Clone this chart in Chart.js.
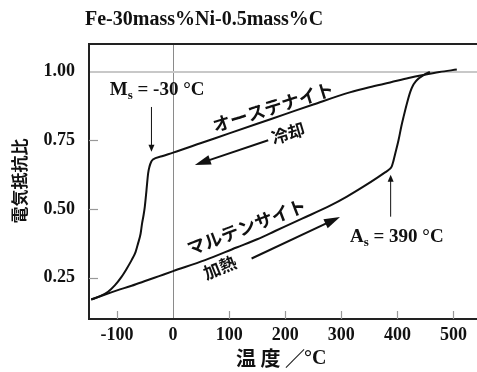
<!DOCTYPE html>
<html><head><meta charset="utf-8">
<script src="https://cdn.jsdelivr.net/npm/chart.js@4/dist/chart.umd.min.js"></script>
<style>html,body{margin:0;padding:0;background:#fff}#wrap{width:477px;height:372px}</style>
</head><body><div id="wrap"><canvas id="c" width="477" height="372"></canvas></div>
<script>
const chartTitle = 'Fe-30mass%Ni-0.5mass%C';
const xTicks = [-100, 0, 100, 200, 300, 400, 500];
const yTicks = [0.25, 0.50, 0.75, 1.00];
// cooling (austenite line + martensite drop), sorted by temperature
const coolTemps  = [-146, -130, -116, -104, -92, -83, -74, -67, -62.5, -58, -55.4, -52.5, -50.5, -47.5, -44.6, -42, -39, -36, -20, 0, 50, 100, 150, 200, 250, 315, 350, 387, 420, 446, 475, 506];
const coolValues = [0.171, 0.183, 0.199, 0.222, 0.253, 0.282, 0.314, 0.343, 0.375, 0.41, 0.447, 0.48, 0.508, 0.568, 0.629, 0.655, 0.672, 0.68, 0.692, 0.705, 0.74, 0.775, 0.81, 0.845, 0.88, 0.924, 0.943, 0.96, 0.976, 0.987, 0.998, 1.007];
// heating (martensite line + reverse transformation)
const heatTemps  = [-146, -120, -100, -74, -50, -25, 0, 57, 113, 150, 182, 230, 280, 310, 340, 365, 378, 386, 390, 393, 396, 402, 407, 411, 417, 423, 428, 432, 438, 444, 451, 458];
const heatValues = [0.171, 0.19, 0.204, 0.221, 0.238, 0.256, 0.274, 0.314, 0.36, 0.39, 0.42, 0.465, 0.512, 0.545, 0.582, 0.615, 0.633, 0.645, 0.655, 0.675, 0.70, 0.75, 0.80, 0.835, 0.884, 0.926, 0.95, 0.962, 0.975, 0.983, 0.992, 0.999];

const SERIF = '"Liberation Serif", "Times New Roman", serif';
const SANS = '"Noto Sans CJK JP", "Noto Sans", sans-serif';

function pts(xs, ys) { return xs.map((x, i) => ({ x: x, y: ys[i] })); }

function arrow(ctx, x0, y0, x1, y1, lw, hl, hw) {
  const a = Math.atan2(y1 - y0, x1 - x0);
  ctx.save();
  ctx.strokeStyle = '#111'; ctx.fillStyle = '#111'; ctx.lineWidth = lw;
  ctx.beginPath();
  ctx.moveTo(x0, y0);
  ctx.lineTo(x1 - Math.cos(a) * hl * 0.8, y1 - Math.sin(a) * hl * 0.8);
  ctx.stroke();
  ctx.beginPath();
  ctx.moveTo(x1, y1);
  ctx.lineTo(x1 - Math.cos(a) * hl - Math.sin(a) * hw, y1 - Math.sin(a) * hl + Math.cos(a) * hw);
  ctx.lineTo(x1 - Math.cos(a) * hl + Math.sin(a) * hw, y1 - Math.sin(a) * hl - Math.cos(a) * hw);
  ctx.closePath(); ctx.fill();
  ctx.restore();
}

function rotText(ctx, txt, x, y, deg, font) {
  ctx.save();
  ctx.translate(x, y); ctx.rotate(deg * Math.PI / 180);
  ctx.font = font; ctx.fillStyle = '#111';
  ctx.textAlign = 'center'; ctx.textBaseline = 'middle';
  ctx.fillText(txt, 0, 0);
  ctx.restore();
}

function subLabel(ctx, main, sub, rest, x, y) {
  ctx.save();
  ctx.fillStyle = '#111'; ctx.textBaseline = 'alphabetic'; ctx.textAlign = 'left';
  ctx.font = 'bold 19px ' + SERIF;
  ctx.fillText(main, x, y);
  let w = ctx.measureText(main).width;
  ctx.font = 'bold 13px ' + SERIF;
  ctx.fillText(sub, x + w, y + 4);
  w += ctx.measureText(sub).width;
  ctx.font = 'bold 19px ' + SERIF;
  ctx.fillText(rest, x + w, y);
  ctx.restore();
}

const deco = {
  id: 'deco',
  beforeDatasetsDraw(chart) {
    const { ctx, chartArea: ca, scales: { x, y } } = chart;
    ctx.save();
    ctx.strokeStyle = '#999'; ctx.lineWidth = 1.2;
    xTicks.forEach(t => {
      if (t === 0) return;
      const px = Math.round(x.getPixelForValue(t)) + 0.5;
      ctx.beginPath(); ctx.moveTo(px, ca.bottom); ctx.lineTo(px, ca.bottom - 8); ctx.stroke();
    });
    yTicks.forEach(t => {
      if (t === 1) return;
      const py = Math.round(y.getPixelForValue(t)) + 0.5;
      ctx.beginPath(); ctx.moveTo(ca.left, py); ctx.lineTo(ca.left + 9, py); ctx.stroke();
    });
    ctx.strokeStyle = '#222'; ctx.lineWidth = 2;
    ctx.beginPath(); ctx.moveTo(ca.left - 1, ca.top); ctx.lineTo(ca.right, ca.top); ctx.stroke();
    ctx.restore();
  },
  afterDraw(chart) {
    const { ctx, scales: { x, y } } = chart;
    const X = v => x.getPixelForValue(v), Y = v => y.getPixelForValue(v);
    ctx.save();
    ctx.font = 'bold 20px ' + SERIF; ctx.fillStyle = '#111';
    ctx.textAlign = 'left'; ctx.textBaseline = 'alphabetic';
    ctx.fillText(chartTitle, 85, 25);
    rotText(ctx, '電気抵抗比', 20, 181, -90, 'bold 17px ' + SANS);
    ctx.font = 'bold 20px ' + SANS; ctx.textAlign = 'left'; ctx.textBaseline = 'middle';
    ctx.fillStyle = '#111';
    ctx.fillText('温 度 ／', 236, 358);
    const w0 = ctx.measureText('温 度 ／').width;
    ctx.font = 'bold 20px ' + SERIF;
    ctx.fillText('°C', 236 + w0 - 1, 359);
    subLabel(ctx, 'M', 's', ' = -30 °C', X(-113), Y(0.914));
    subLabel(ctx, 'A', 's', ' = 390 °C', X(315.5), Y(0.381));
    arrow(ctx, X(-38.6), Y(0.871), X(-38.6), Y(0.708), 1, 7, 3);
    arrow(ctx, X(388), Y(0.472), X(388), Y(0.625), 1, 7, 3);
    rotText(ctx, 'オーステナイト', X(178.4), Y(0.871), -17.5, 'bold 18px ' + SANS);
    rotText(ctx, '冷却', X(205), Y(0.775), -17, 'bold 17px ' + SANS);
    arrow(ctx, X(169.6), Y(0.75), X(38.8), Y(0.66), 2, 16, 5);
    rotText(ctx, 'マルテンサイト', X(131), Y(0.435), -21, 'bold 18px ' + SANS);
    rotText(ctx, '加熱', X(83.4), Y(0.287), -22, 'bold 17px ' + SANS);
    arrow(ctx, X(140), Y(0.32), X(297.7), Y(0.471), 2, 16, 5);
    ctx.restore();
  }
};

new Chart(document.getElementById('c'), {
  type: 'line',
  data: {
    datasets: [
      { label: 'cooling', data: pts(coolTemps, coolValues), borderColor: '#111', borderWidth: 2,
        pointRadius: 0, cubicInterpolationMode: 'monotone', fill: false },
      { label: 'heating', data: pts(heatTemps, heatValues), borderColor: '#111', borderWidth: 2,
        pointRadius: 0, cubicInterpolationMode: 'monotone', fill: false }
    ]
  },
  options: {
    responsive: false, animation: false, devicePixelRatio: 1,
    layout: { padding: { top: 44, right: 0, left: 0, bottom: 0 } },
    plugins: { legend: { display: false }, tooltip: { enabled: false }, title: { display: false } },
    scales: {
      x: {
        type: 'linear', min: -150, max: 542,
        afterFit: s => { s.height = 53; },
        afterBuildTicks: s => { s.ticks = xTicks.map(v => ({ value: v })); },
        grid: { drawTicks: false, lineWidth: 1, color: c => (c.tick && c.tick.value === 0) ? '#8a8a8a' : 'rgba(0,0,0,0)' },
        border: { display: true, color: '#222', width: 2 },
        ticks: { padding: 6, color: '#111', font: { family: SERIF, size: 18, weight: 'bold' }, maxRotation: 0, autoSkip: false,
          callback: v => String(v) }
      },
      y: {
        type: 'linear', min: 0.1, max: 1.1,
        afterFit: s => { s.width = 89; },
        afterBuildTicks: s => { s.ticks = yTicks.map(v => ({ value: v })); },
        grid: { drawTicks: false, lineWidth: 2, color: c => (c.tick && Math.abs(c.tick.value - 1) < 1e-9) ? '#c8c8c8' : 'rgba(0,0,0,0)' },
        border: { display: true, color: '#222', width: 2 },
        ticks: { padding: 14, color: '#111', font: { family: SERIF, size: 18, weight: 'bold' }, autoSkip: false,
          callback: v => Number(v).toFixed(2) }
      }
    }
  },
  plugins: [deco]
});
</script></body></html>
